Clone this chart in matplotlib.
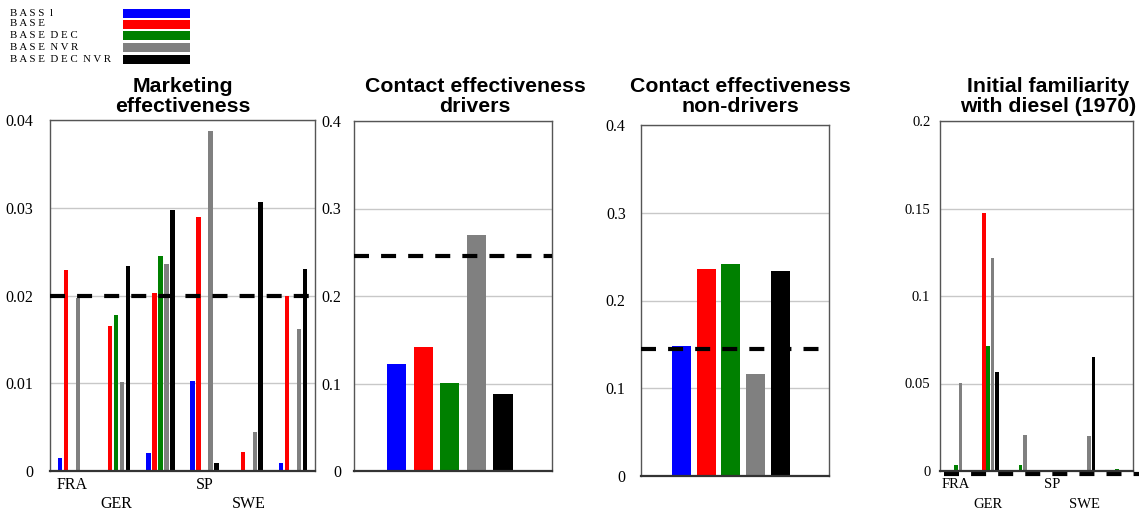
import matplotlib
matplotlib.use("Agg")
import matplotlib.pyplot as plt
from matplotlib.patches import Rectangle
from matplotlib.transforms import blended_transform_factory, offset_copy
import numpy as np

# ---------------- data ----------------
scenarios = ["BASS l", "BASE", "BASE DEC", "BASE NVR", "BASE DEC NVR"]
colors = ["#0000ff", "#ff0000", "#008000", "#808080", "#000000"]
countries = ["FRA", "GER", "", "SP", "SWE", ""]

# Marketing effectiveness, per country (rows) x scenario (cols)
marketing = [
    [0.0015, 0.0229, 0.0,    0.0197, 0.0],
    [0.0,    0.0165, 0.0178, 0.0101, 0.0234],
    [0.0021, 0.0203, 0.0245, 0.0236, 0.0297],
    [0.0103, 0.0290, 0.0,    0.0388, 0.0009],
    [0.0,    0.0022, 0.0,    0.0044, 0.0306],
    [0.0009, 0.0199, 0.0,    0.0162, 0.0230],
]
marketing_ref = 0.020

contact_drivers = [0.122, 0.142, 0.1005, 0.270, 0.088]
contact_drivers_ref = 0.246

contact_nondrivers = [0.148, 0.236, 0.242, 0.1165, 0.234]
contact_nondrivers_ref = 0.1446

familiarity = [
    [0.0,    0.0,    0.0032, 0.0503, 0.0],
    [0.0,    0.1476, 0.0714, 0.1215, 0.0564],
    [0.0,    0.0,    0.0032, 0.0204, 0.0],
    [0.0,    0.0,    0.0,    0.0,    0.0],
    [0.0,    0.0,    0.0,    0.0198, 0.0651],
    [0.0,    0.0,    0.0010, 0.0,    0.0],
]
familiarity_ref = 0.0

titles = ["Marketing\neffectiveness", "Contact effectiveness\ndrivers",
          "Contact effectiveness\nnon-drivers", "Initial familiarity\nwith diesel (1970)"]

# ---------------- figure ----------------
W, H = 1139, 512
fig = plt.figure(figsize=(W / 100, H / 100), dpi=100)

SERIF = ["Liberation Serif", "DejaVu Serif"]
SANS = ["Liberation Sans", "DejaVu Sans"]


def ax_at(l, r, t, b):
    return fig.add_axes([l / W, 1 - b / H, (r - l) / W, (b - t) / H])


def style(ax, ymax, step, pad, fs=11.5):
    ax.set_ylim(0, ymax)
    ticks = np.round(np.arange(0, ymax + step / 2, step), 4)
    ax.set_yticks(ticks)
    ax.set_yticklabels([("%g" % v) for v in ticks], fontfamily=SERIF, fontsize=fs)
    ax.tick_params(axis="y", length=0, pad=pad)
    ax.tick_params(axis="x", length=0, labelbottom=False)
    ax.yaxis.grid(True, color="#c8c8c8", lw=1)
    ax.set_axisbelow(True)
    for s in ["top", "right", "left"]:
        ax.spines[s].set_color("#555555")
        ax.spines[s].set_linewidth(1)
    ax.spines["bottom"].set_color("#333333")
    ax.spines["bottom"].set_linewidth(1.6)


DASH = (0, (3.6, 2.9))


def grouped(ax, data, width, spacing):
    data = np.array(data)
    x = np.arange(data.shape[0])
    for j in range(data.shape[1]):
        ax.bar(x + (j - 2) * spacing, data[:, j], width=width, color=colors[j], zorder=2)
    ax.set_xlim(-0.5, data.shape[0] - 0.5)


def country_labels(ax, fs):
    tr = blended_transform_factory(ax.transData, fig.transFigure)
    for i, c in enumerate(countries):
        if not c:
            continue
        row = 0 if i in (0, 3) else 1
        ypix = 485 if row == 0 else 504
        ax.text(i, 1 - ypix / H, c, transform=tr, ha="center", va="center",
                fontfamily=SERIF, fontsize=fs)


# Panel 1
ax1 = ax_at(50, 315, 120, 471)
style(ax1, 0.04, 0.01, 12)
grouped(ax1, marketing, 0.1, 0.135)
ax1.axhline(marketing_ref, color="black", lw=3, linestyle=DASH, zorder=3)
country_labels(ax1, 11.5)

# Panel 2
ax2 = ax_at(354, 552, 121, 471)
style(ax2, 0.4, 0.1, 9)
ax2.bar(np.arange(5), contact_drivers, width=0.72, color=colors, zorder=2)
ax2.set_xlim(-1.62, 5.85)
ax2.axhline(contact_drivers_ref, color="black", lw=3, linestyle=DASH, zorder=3)

# Panel 3
ax3 = ax_at(641, 829, 125, 476)
style(ax3, 0.4, 0.1, 11)
ax3.bar(np.arange(5), contact_nondrivers, width=0.77, color=colors, zorder=2)
ax3.set_xlim(-1.63, 5.96)
ax3.axhline(contact_nondrivers_ref, color="black", lw=3, linestyle=DASH, zorder=3)

# Panel 4
ax4 = ax_at(940, 1133, 121, 471)
style(ax4, 0.2, 0.05, 7, fs=10.5)
grouped(ax4, familiarity, 0.115, 0.135)
ref_line = ax4.axhline(familiarity_ref, xmin=0.02, xmax=1.1, color="black", lw=3,
                       linestyle=DASH, zorder=1, clip_on=False)
ref_line.set_transform(offset_copy(ref_line.get_transform(), fig=fig, x=0, y=-3,
                                   units="dots"))
country_labels(ax4, 10.5)

# Titles
title_pos = [(183, 77), (475, 77), (740, 77), (1048, 77)]
for (xp, yp), t in zip(title_pos, titles):
    fig.text(xp / W, 1 - yp / H, t, ha="center", va="top", fontfamily=SANS,
             fontweight="bold", fontsize=15.3, linespacing=1.05)

# Legend
rows_y = [13, 24, 35, 47, 59]
for name, c, yp in zip(scenarios, colors, rows_y):
    spaced = "  ".join(" ".join(w) for w in name.split(" "))
    fig.text(10 / W, 1 - yp / H, spaced, ha="left", va="center",
             fontfamily=SERIF, fontsize=7.8)
    fig.add_artist(Rectangle((123 / W, 1 - (yp + 4.5) / H), 67 / W, 8.5 / H,
                             transform=fig.transFigure, color=c, lw=0))

fig.savefig("out.png", dpi=100)
